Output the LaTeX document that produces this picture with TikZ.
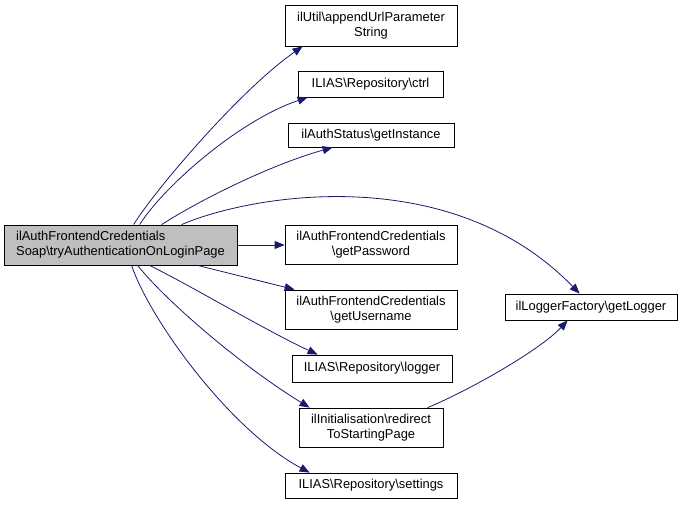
\documentclass[tikz,border=0pt]{standalone}
\usepackage{fontspec}
\setmainfont{Liberation Sans}
\usetikzlibrary{arrows.meta}
\definecolor{edgeblue}{HTML}{191970}
\definecolor{maingray}{HTML}{BFBFBF}
\tikzset{
  box/.style={draw=black, line width=0.8pt, fill=white, inner sep=0pt, align=center,
    font=\fontsize{12.9}{15}\selectfont},
  edge/.style={draw=edgeblue, line width=0.8pt, -{Triangle[length=10pt,width=8pt]}}
}
\begin{document}
\begin{tikzpicture}[x=1pt,y=-1pt]
\useasboundingbox (0,0) rectangle (683,505);
\node[box, fill=maingray, align=left, minimum width=233pt, minimum height=40pt] (main) at (120.5,245) {ilAuthFrontendCredentials\\Soap\textbackslash tryAuthenticationOnLoginPage};
\node[box, minimum width=172pt, minimum height=41pt] (b1) at (371,25.5) {ilUtil\textbackslash appendUrlParameter\\String};
\node[box, minimum width=145pt, minimum height=26pt] (b2) at (370.5,84) {ILIAS\textbackslash Repository\textbackslash ctrl};
\node[box, minimum width=166pt, minimum height=24pt] (b3) at (371,135) {ilAuthStatus\textbackslash getInstance};
\node[box, minimum width=172pt, minimum height=39pt] (b4) at (371,244.5) {ilAuthFrontendCredentials\\\textbackslash getPassword};
\node[box, minimum width=172pt, minimum height=39pt] (b5) at (371,309.5) {ilAuthFrontendCredentials\\\textbackslash getUsername};
\node[box, minimum width=172pt, minimum height=26pt] (lf) at (591,307) {ilLoggerFactory\textbackslash getLogger};
\node[box, minimum width=160pt, minimum height=27pt] (b6) at (372,368.5) {ILIAS\textbackslash Repository\textbackslash logger};
\node[box, minimum width=144pt, minimum height=39pt] (b7) at (371,427.5) {ilInitialisation\textbackslash redirect\\ToStartingPage};
\node[box, minimum width=172pt, minimum height=25pt] (b8) at (371,485.5) {ILIAS\textbackslash Repository\textbackslash settings};

\draw[edge] ([xshift=130pt]main.north west) .. controls (155,190) and (240,90) .. ([xshift=18pt]b1.south west);
\draw[edge] ([xshift=136pt]main.north west) .. controls (165,185) and (240,120) .. ([xshift=10pt]b2.south west);
\draw[edge] ([xshift=158pt]main.north west) .. controls (200,200) and (270,165) .. ([xshift=45pt]b3.south west);
\draw[edge] ([xshift=178pt]main.north west) .. controls (250,195) and (450,160) .. ([xshift=75pt]lf.north west);
\draw[edge] (main.east) -- (main.east -| b4.west);
\draw[edge] ([xshift=194pt]main.south west) -- ([xshift=10pt]b5.north west);
\draw[edge] ([xshift=146pt]main.south west) .. controls (195,288) and (265,330) .. ([xshift=26pt]b6.north west);
\draw[edge] ([xshift=134pt]main.south west) .. controls (165,300) and (240,365) .. ([xshift=11pt]b7.north west);
\draw[edge] ([xshift=128pt]main.south west) .. controls (150,320) and (230,430) .. ([xshift=25pt]b8.north west);
\draw[edge] ([xshift=129pt]b7.north west) .. controls (470,390) and (540,350) .. ([xshift=63pt]lf.south west);
\end{tikzpicture}
\end{document}
